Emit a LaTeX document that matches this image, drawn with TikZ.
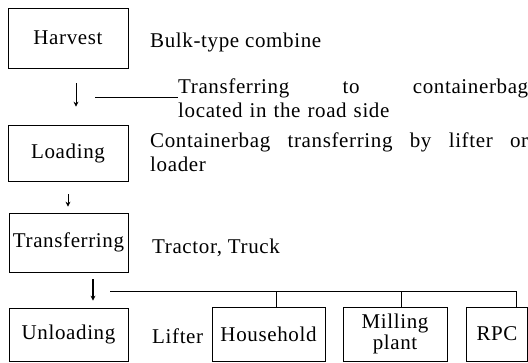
\documentclass[tikz,border=0pt]{standalone}
\usepackage{fontspec}
\setmainfont{Liberation Serif}[LetterSpace=3]
\usetikzlibrary{arrows.meta}

\begin{document}
\begin{tikzpicture}[x=1bp, y=-1bp,
  box/.style={rectangle, draw, line width=0.7bp, align=center, inner sep=0pt, minimum width=120bp, font=\fontsize{21bp}{21bp}\selectfont},
  note/.style={anchor=base west, inner sep=0pt, font=\fontsize{21bp}{24bp}\selectfont},
  arrow/.style={-{Stealth[length=5bp, width=5bp]}, line width=0.8bp},
  link/.style={line width=0.8bp},
]
\useasboundingbox (0,0) rectangle (528,362);

% === STEPS ===
\node[box, minimum height=60bp] (harvest) at (68,38) {Harvest};
\node[box, minimum height=56bp] (loading) at (68,153) {Loading};
\node[box, minimum width=119bp, minimum height=59bp] (transfer) at (68.5,242.5) {Transferring};
\node[box, minimum width=119bp, minimum height=53bp] (unloading) at (68.5,334.5) {Unloading};

% === DESTINATIONS ===
\node[box, minimum width=113bp, minimum height=54bp] (household) at (268.5,334) {Household};
\node[box, minimum width=104bp, minimum height=54bp] (milling) at (395,334) {Milling\\plant};
\node[box, minimum width=61bp, minimum height=54bp] (rpc) at (497,334) {RPC};

% === NOTES ===
\node[note] (combine) at (150,47) {Bulk-type combine};
\node[note, text width=350bp, align=left] (roadside) at (178,93)
  {Transferring\hfill to\hfill containerbag\\located in the road side};
\node[note, text width=378bp, align=left] (lifter) at (150,147)
  {Containerbag\hfill transferring\hfill by\hfill lifter\hfill or\\loader};
\node[note] (truck) at (152,253) {Tractor, Truck};
\node[note] (lifterB) at (152,343) {Lifter};

% === FLOW ===
\draw[arrow, shorten <=15bp, shorten >=18bp] ([xshift=8bp]harvest.south) -- ([xshift=8bp]loading.north);
\draw[arrow, shorten <=13bp, shorten >=6bp] (loading.south) -- (loading.south |- transfer.north);
\draw[arrow, line width=1.5bp, shorten <=7bp, shorten >=7bp] ([xshift=24.5bp]transfer.south) -- ([xshift=24.5bp]unloading.north);

\coordinate (tap) at (95,97);
\draw[link] (tap) -- (tap -| roadside.west);

\coordinate (bus) at (110,291);
\draw[link] (bus) -| ([xshift=19bp]rpc.north);
\draw[link] ([xshift=7.5bp]household.north) |- (bus);
\draw[link] ([xshift=6bp]milling.north) |- (bus);
\end{tikzpicture}
\end{document}
